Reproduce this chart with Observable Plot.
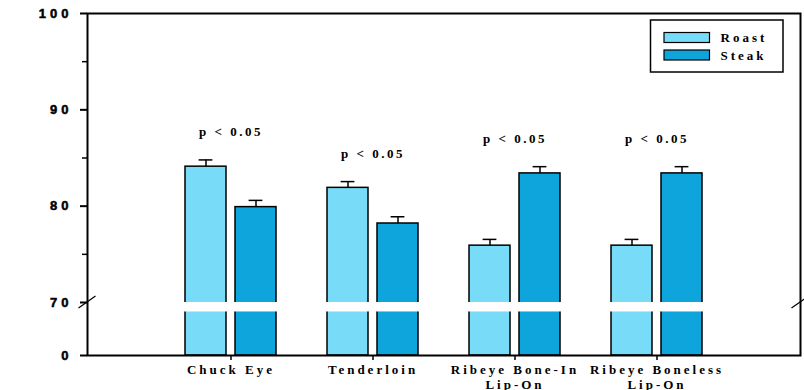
<!DOCTYPE html>
<html>
<head>
<meta charset="utf-8">
<script src="https://cdn.jsdelivr.net/npm/d3@7"></script>
<script src="https://cdn.jsdelivr.net/npm/@observablehq/plot@0.6"></script>
<style>
  body { margin: 0; background: #fff; }
  #chart svg { display: block; }
  g[aria-label="y-axis tick label"] text { letter-spacing: 4px; stroke: black; stroke-width: 0.5px; }
  g[aria-label="x-axis tick label"] text { letter-spacing: 3px; }
  text.significance { letter-spacing: 2.5px; }
  g.legend text { letter-spacing: 3px; }
</style>
</head>
<body>
<div id="chart"></div>
<script>
// Cuts, in display order (line breaks are kept in the tick labels)
const categories = ["Chuck Eye", "Tenderloin", "Ribeye Bone-In\nLip-On", "Ribeye Boneless\nLip-On"];

// Cooking method series
const methods = ["Roast", "Steak"];
const methodColors = ["#78dcf8", "#0ea5dd"];

// Means and standard errors per cut
const roast = [84.1, 81.9, 75.9, 75.9];
const roastSE = [0.7, 0.65, 0.65, 0.65];
const steak = [79.9, 78.2, 83.4, 83.4];
const steakSE = [0.7, 0.7, 0.7, 0.7];

// Significance annotations per cut
const significance = ["p < 0.05", "p < 0.05", "p < 0.05", "p < 0.05"];

// Axis ticks and the broken segment of the y axis
const yTicks = [0, 70, 80, 90, 100];
const yMinorTicks = [75, 85, 95];
const axisBreak = [57.5, 70];

// ---- build rows -------------------------------------------------------
const series = {Roast: [roast, roastSE], Steak: [steak, steakSE]};
const rows = categories.flatMap((category, i) =>
  methods.map((method) => ({
    category,
    method,
    value: series[method][0][i],
    se: series[method][1][i]
  }))
);
const sigRows = categories.map((category, i) => ({
  category,
  text: significance[i],
  top: d3.max(rows.filter((r) => r.category === category), (r) => r.value + r.se)
}));

// ---- layout -------------------------------------------------------------
const W = 804, H = 390;
const mL = 87, mR = 4, mT = 13, mB = 35;
const barInset = 50;       // each bar keeps one side of its group band
const capInsetNear = 13.6; // error-bar caps, measured from the band edge
const capInsetFar = 63.6;
const errOffset = 25;      // bar centre relative to band centre

// Broken y axis: values below the break are squeezed into a short stub
const breakAt = 70;
const stubFactor = 0.0786; // share of a unit kept below the break
const squeeze = (v) => (v >= breakAt ? v : breakAt - (breakAt - v) * stubFactor);

const serif = "'Liberation Serif', 'Times New Roman', serif";
const sans = "'Liberation Sans', Arial, sans-serif";

const barMarks = methods.map((m, k) =>
  Plot.barY(rows.filter((r) => r.method === m), {
    x: "category",
    y1: () => 0,
    y2: "value",
    fill: methodColors[k],
    stroke: "black",
    strokeWidth: 1.5,
    insetLeft: k === 0 ? 0 : barInset,
    insetRight: k === 0 ? barInset : 0
  })
);

const ruleMarks = methods.map((m, k) =>
  Plot.ruleX(rows.filter((r) => r.method === m), {
    x: "category",
    y1: "value",
    y2: (d) => d.value + d.se,
    dx: k === 0 ? -errOffset : errOffset,
    stroke: "black",
    strokeWidth: 1.5
  })
);

const capMarks = methods.map((m, k) =>
  Plot.tickY(rows.filter((r) => r.method === m), {
    x: "category",
    y: (d) => d.value + d.se,
    stroke: "black",
    strokeWidth: 1.5,
    insetLeft: k === 0 ? capInsetNear : capInsetFar,
    insetRight: k === 0 ? capInsetFar : capInsetNear
  })
);

const plot = Plot.plot({
  width: W,
  height: H,
  marginLeft: mL,
  marginRight: mR,
  marginTop: mT,
  marginBottom: mB,
  style: {background: "white", color: "black", fontFamily: sans, overflow: "visible"},
  x: {type: "band", domain: categories, paddingInner: 0.36, paddingOuter: 0.68, label: null},
  y: {transform: squeeze, domain: [squeeze(0), 100], label: null},
  marks: [
    ...barMarks,
    // white cut across the bars where the axis is broken
    Plot.rect([0], {y1: () => axisBreak[0], y2: () => axisBreak[1], fill: "white"}),
    ...ruleMarks,
    ...capMarks,
    Plot.text(sigRows, {
      x: "category",
      y: "top",
      text: "text",
      dy: -28,
      fontFamily: serif,
      fontWeight: "bold",
      fontSize: 13,
      fill: "black"
    }),
    Plot.frame({stroke: "black", strokeWidth: 2}),
    Plot.axisY(yTicks, {
      tickSize: 7,
      tickPadding: 8,
      strokeWidth: 2,
      fontSize: 13,
      fontWeight: "bold",
      fontFamily: sans,
      label: null
    }),
    Plot.axisY(yMinorTicks, {
      tickSize: 5,
      strokeWidth: 1.5,
      tickFormat: () => "",
      label: null,
      ariaLabel: "y-axis minor tick"
    }),
    Plot.axisX({
      tickSize: 5,
      tickPadding: 3,
      strokeWidth: 1.5,
      fontSize: 13,
      fontWeight: "bold",
      fontFamily: serif,
      lineHeight: 1.15,
      label: null
    })
  ]
});

document.getElementById("chart").appendChild(plot);

// ---- annotation spacing, axis break marks and legend -----------------------
const svg = d3.select(plot.tagName === "svg" ? plot : plot.querySelector("svg"));
svg.selectAll("text")
  .filter(function () { return significance.includes(this.textContent); })
  .classed("significance", true);

const ys = plot.scale("y");
const yPos = (v) => ys.apply(v);

const breakG = svg.append("g").attr("aria-label", "axis break");
for (const xAxis of [mL, W - mR]) {
  for (const v of axisBreak) {
    const y0 = yPos(v);
    breakG.append("line")
      .attr("x1", xAxis - 8.5).attr("y1", y0 + 6)
      .attr("x2", xAxis + 8.5).attr("y2", y0 - 6)
      .attr("stroke", "black").attr("stroke-width", 1.2);
  }
}

const legend = svg.append("g").attr("class", "legend")
  .attr("text-anchor", "start")
  .attr("transform", `translate(${W - mR - 149.5},${mT + 7})`);
legend.append("rect")
  .attr("width", 132.5).attr("height", 52)
  .attr("fill", "white").attr("stroke", "black").attr("stroke-width", 1.5);
methods.forEach((m, k) => {
  const yy = 12.5 + k * 17.5;
  legend.append("rect")
    .attr("x", 13.5).attr("y", yy)
    .attr("width", 45.5).attr("height", 10)
    .attr("fill", methodColors[k]).attr("stroke", "black").attr("stroke-width", 1.2);
  legend.append("text")
    .attr("x", 70).attr("y", yy + 5)
    .attr("dy", "0.35em")
    .attr("font-family", serif).attr("font-weight", "bold").attr("font-size", 13)
    .attr("fill", "black")
    .text(m);
});
</script>
</body>
</html>
